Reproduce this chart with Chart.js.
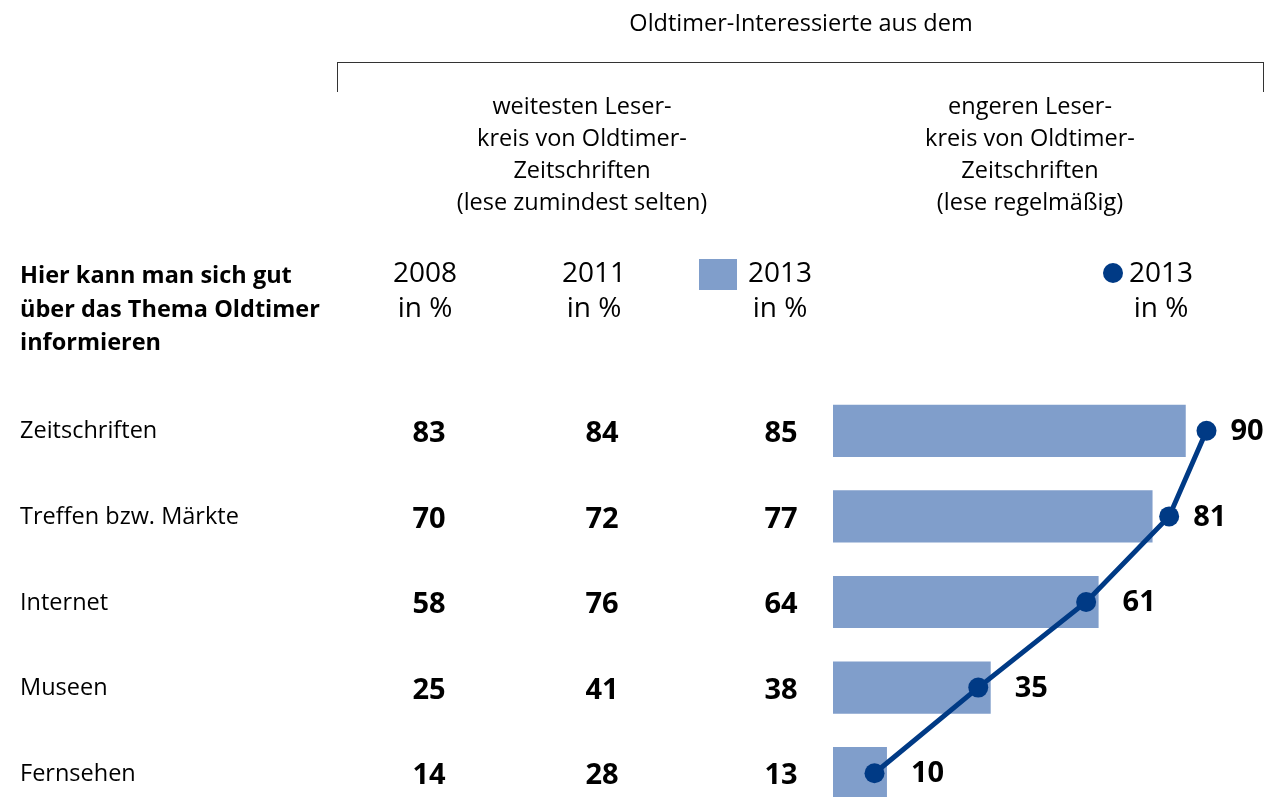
<!DOCTYPE html>
<html lang="de">
<head>
<meta charset="utf-8">
<title>Oldtimer-Interessierte</title>
<script src="https://cdn.jsdelivr.net/npm/chart.js@4"></script>
<style>
  html, body { margin: 0; padding: 0; background: #fff; overflow: hidden; }
  body { width: 1268px; height: 797px; position: relative; font-family: "Open Sans", sans-serif; color: #000; }
  #chart { position: absolute; left: 0; top: 0; }
  .t { position: absolute; white-space: nowrap; font-size: 23.5px; line-height: 32px; }
  .c { transform: translateX(-50%); text-align: center; }
  .yr { font-size: 28px; line-height: 35px; }
  .b { font-weight: bold; }
  #bracket { position: absolute; left: 337px; top: 62px; width: 925px; height: 29px; border: 1.5px solid #333; border-bottom: none; }
  #swatch { position: absolute; left: 699px; top: 259px; width: 38px; height: 31px; background: #809ecb; }
  #dot { position: absolute; left: 1103px; top: 263px; width: 20px; height: 20px; border-radius: 50%; background: #003a85; }
</style>
</head>
<body>
<canvas id="chart" width="1268" height="830"></canvas>

<div class="t c" style="left:801px; top:6px;">Oldtimer-Interessierte aus dem</div>
<div id="bracket"></div>
<div class="t c" style="left:582px; top:89px;">weitesten Leser-<br>kreis von Oldtimer-<br>Zeitschriften<br>(lese zumindest selten)</div>
<div class="t c" style="left:1030px; top:89px;">engeren Leser-<br>kreis von Oldtimer-<br>Zeitschriften<br>(lese regelmäßig)</div>

<div class="t b" style="left:20px; top:258px; line-height:33.5px;">Hier kann man sich gut<br>über das Thema Oldtimer<br>informieren</div>

<div class="t c yr" style="left:425px; top:254px;">2008<br>in %</div>
<div class="t c yr" style="left:594px; top:254px;">2011<br>in %</div>
<div id="swatch"></div>
<div class="t c yr" style="left:780px; top:254px;">2013<br>in %</div>
<div id="dot"></div>
<div class="t c yr" style="left:1161px; top:254px;">2013<br>in %</div>

<script>
    const categories = ['Zeitschriften', 'Treffen bzw. Märkte', 'Internet', 'Museen', 'Fernsehen'];
    const wide2008 = [83, 70, 58, 25, 14];
    const wide2011 = [84, 72, 76, 41, 28];
    const wide2013 = [85, 77, 64, 38, 13];
    const close2013 = [90, 81, 61, 35, 10];

    const barColor = '#809ecb';
    const lineColor = '#003a85';

    // Row labels, table columns and point labels
    const tableText = {
        id: 'tableText',
        afterDatasetsDraw(chart) {
            const ctx = chart.ctx;
            const xs = chart.scales.x;
            const ys = chart.scales.y;
            ctx.save();
            ctx.textBaseline = 'middle';
            ctx.fillStyle = '#000';
            categories.forEach((cat, i) => {
                const py = ys.getPixelForValue(i);
                ctx.font = '23.5px "Open Sans"';
                ctx.textAlign = 'left';
                ctx.fillText(cat, 20, py + 1);

                ctx.font = 'bold 29px "Open Sans"';
                ctx.textAlign = 'center';
                ctx.fillText(wide2008[i], 429, py + 3);
                ctx.fillText(wide2011[i], 602, py + 3);
                ctx.fillText(wide2013[i], 781, py + 3);

                const barEnd = xs.getPixelForValue(wide2013[i]);
                const ptX = xs.getPixelForValue(close2013[i]);
                ctx.textAlign = 'left';
                ctx.fillText(close2013[i], Math.max(barEnd, ptX) + 24, py + 1);
            });
            ctx.restore();
        }
    };

    new Chart(document.getElementById('chart').getContext('2d'), {
        data: {
            labels: categories,
            datasets: [
                {
                    type: 'line',
                    data: close2013,
                    indexAxis: 'y',
                    order: 0,
                    borderColor: lineColor,
                    backgroundColor: lineColor,
                    borderWidth: 5,
                    pointRadius: 10,
                    pointHoverRadius: 10,
                    pointBorderWidth: 0,
                    tension: 0,
                    clip: false
                },
                {
                    type: 'bar',
                    data: wide2013,
                    indexAxis: 'y',
                    order: 1,
                    backgroundColor: barColor,
                    categoryPercentage: 1,
                    barPercentage: 0.61
                }
            ]
        },
        options: {
            indexAxis: 'y',
            responsive: false,
            animation: false,
            layout: { padding: { left: 833, right: 20, top: 388, bottom: 14 } },
            scales: {
                x: { type: 'linear', min: 0, max: 100, display: false },
                y: { type: 'category', display: false, offset: true }
            },
            plugins: {
                legend: { display: false },
                tooltip: { enabled: false }
            }
        },
        plugins: [tableText]
    });
</script>
</body>
</html>
